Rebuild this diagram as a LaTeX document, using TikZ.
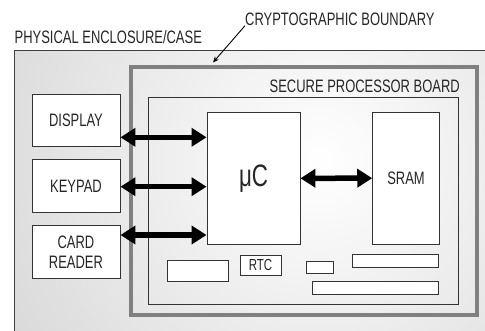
\documentclass[tikz,border=0pt]{standalone}
\usepackage{fontspec}
\setmainfont[FakeStretch=0.72]{Liberation Sans}
\usetikzlibrary{arrows.meta}

\begin{document}
\begin{tikzpicture}[x=1pt,y=-1pt,
  box/.style={draw=black!80,fill=white,line width=0.9pt,inner sep=0pt,
    text=black!85,font=\fontsize{18}{20}\selectfont,align=center},
  lbl/.style={inner sep=0pt,text=black!85,font=\fontsize{18}{20}\selectfont},
  bus/.style={line width=5.5pt,{Triangle[length=15pt,width=18pt]}-{Triangle[length=15pt,width=18pt]}}]
\useasboundingbox (0,0) rectangle (485,331);
\clip (0,0) rectangle (485,331);
% enclosure with its soft gray shading
\begin{scope}
\clip (14,50.5) rectangle (500,345);
\shade[inner color=white,outer color=black!30] (320,160) circle (720);
\end{scope}
\draw[black!75,line width=0.8pt] (14,345) -- (14,50.5) -- (500,50.5);
\node[lbl,anchor=base west] (encl) at (14.5,43.5) {PHYSICAL ENCLOSURE/CASE};
% cryptographic boundary
\draw[black!50,line width=4pt] (131,67) rectangle (476.5,315);
\node[lbl,anchor=base west] (crypt) at (245,25.7) {CRYPTOGRAPHIC BOUNDARY};
\coordinate (tip) at (213,62.5);
\draw[black,line width=0.9pt,-{Stealth[length=6pt,width=5pt]}] (crypt.base west) -- (tip);
% secure processor board
\draw[black!80,line width=0.9pt] (148.3,97.3) rectangle (458,304);
\node[lbl,anchor=base east] (board) at (460,93) {SECURE PROCESSOR BOARD};
% parts outside the boundary
\node[box,minimum width=88pt,minimum height=52.4pt] (disp) at (76,120.5) {DISPLAY};
\node[box,minimum width=88pt,minimum height=52.7pt] (keypad) at (76,186.3) {KEYPAD};
\node[box,minimum width=88pt,minimum height=52.6pt] (reader) at (76,252) {CARD\\READER};
% parts on the board
\node[box,minimum width=93pt,minimum height=132pt,font=\fontsize{31}{33}\selectfont] (uc) at (253.5,178.3) {μC};
\node[box,minimum width=66.6pt,minimum height=131.7pt] (sram) at (406,178.2) {SRAM};
\node[box,minimum width=61pt,minimum height=20.7pt] (chipa) at (197.8,271.3) {};
\node[box,minimum width=41pt,minimum height=20pt,font=\fontsize{16}{17}\selectfont] (rtc) at (260.5,265) {RTC};
\node[box,minimum width=27.3pt,minimum height=12.3pt] (chipb) at (319.7,267.8) {};
\node[box,minimum width=85.6pt,minimum height=13.3pt] (chipc) at (395.5,260.7) {};
\node[box,minimum width=125.6pt,minimum height=13pt] (chipd) at (375.5,287.5) {};
% buses
\coordinate (b1) at (0,137.3);
\coordinate (b2) at (0,186.7);
\coordinate (b3) at (0,235);
\draw[bus] (disp.east |- b1) -- (uc.west |- b1);
\draw[bus] (keypad.east |- b2) -- (uc.west |- b2);
\draw[bus] (reader.east |- b3) -- (uc.west |- b3);
\draw[bus] (uc.east) -- (sram.west);
\end{tikzpicture}
\end{document}
